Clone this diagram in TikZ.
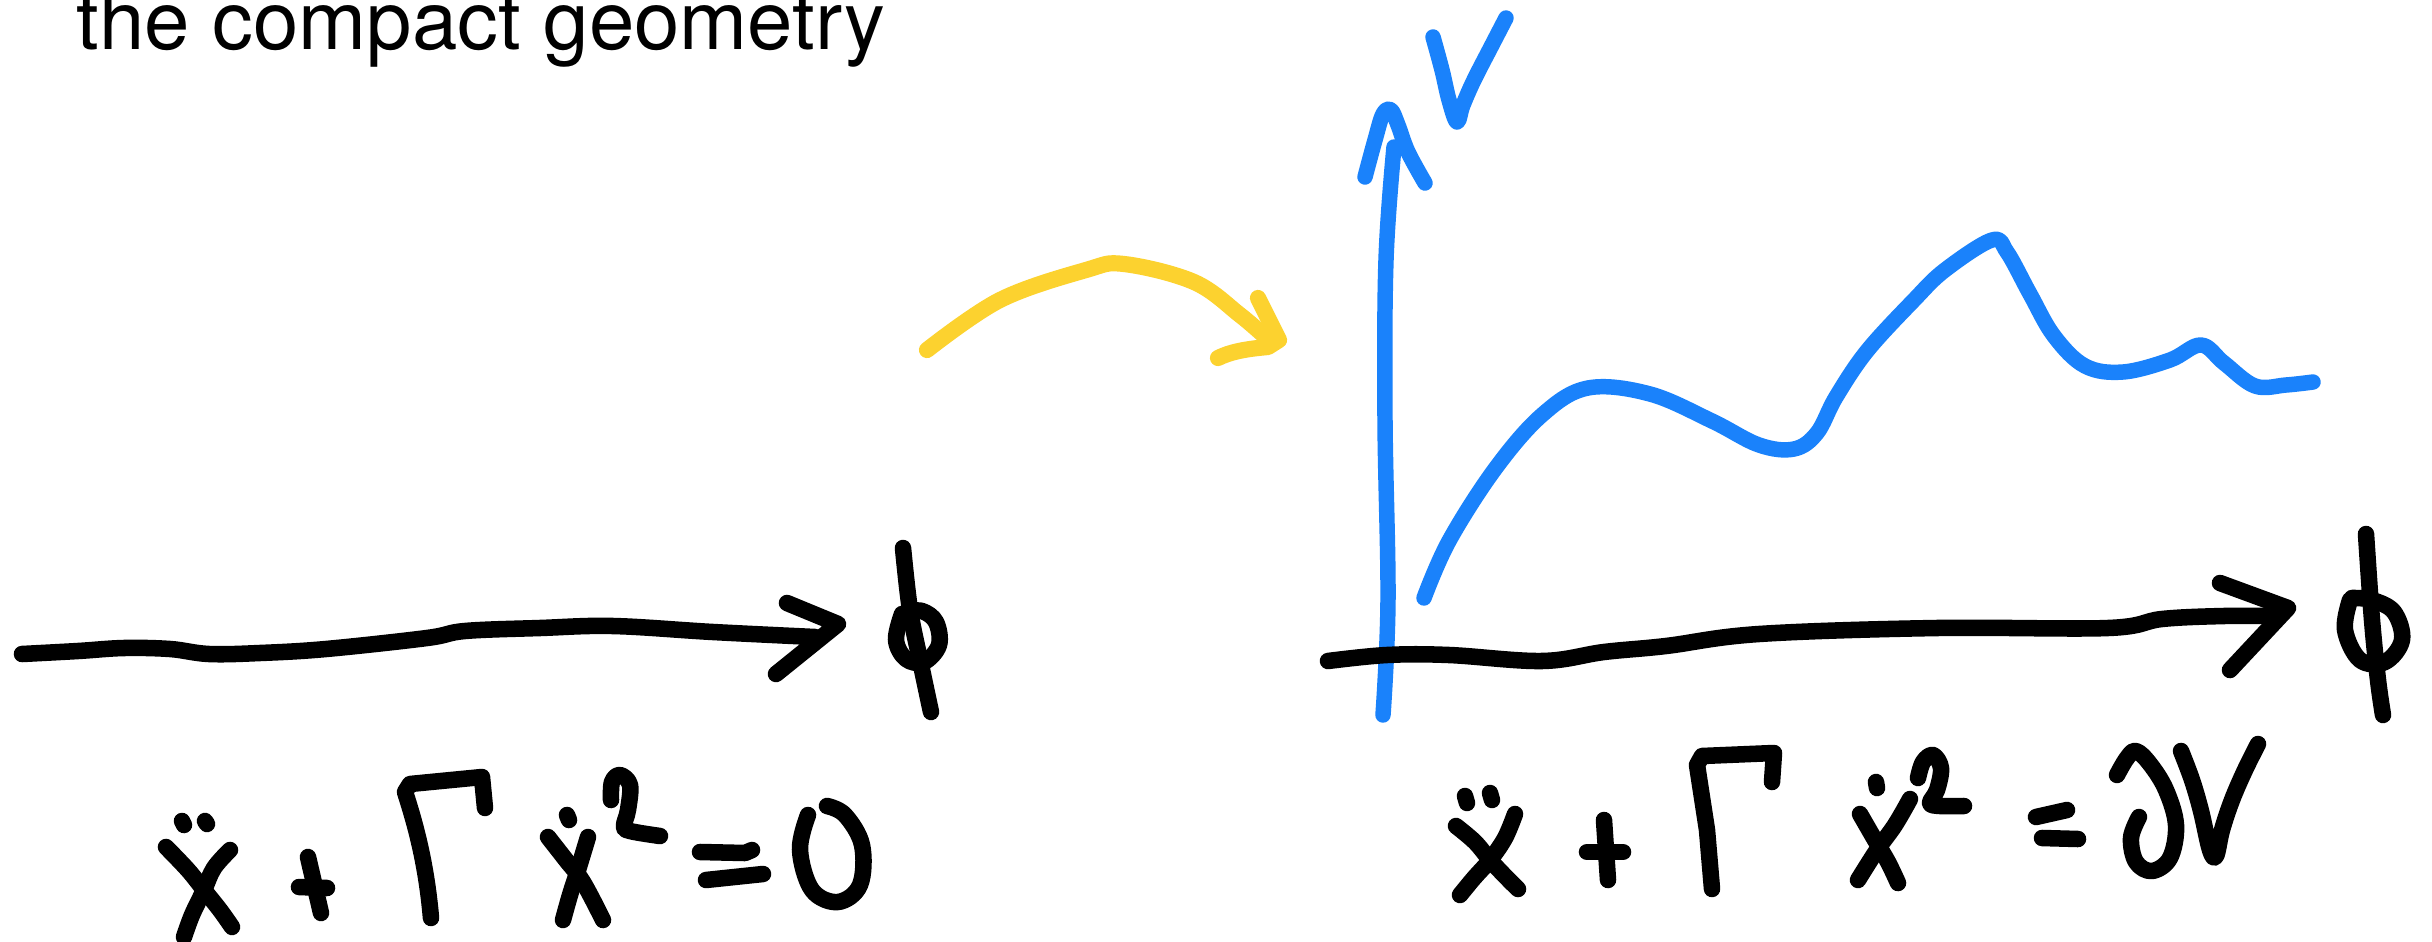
\documentclass[tikz,border=0pt]{standalone}
\usepackage{fontspec}
\newfontfamily\titlefont{TeX Gyre Heros}
\definecolor{inkblue}{HTML}{1A82FB}
\definecolor{inkyellow}{HTML}{FCD22F}
\begin{document}
\begin{tikzpicture}[x=0.01cm,y=-0.01cm,
  pen/.style={line width=4.7pt,line cap=round,line join=round},
  blk/.style={pen,black},
  blu/.style={pen,inkblue,line width=4.4pt},
  ylw/.style={pen,inkyellow,line width=4.6pt},
  sm/.style={smooth,tension=0.6}]
\useasboundingbox (0,0) rectangle (2432,942);
\fill[white] (0,0) rectangle (2432,942);

% title
\node[anchor=base west,inner sep=0pt,font=\titlefont\fontsize{23.2pt}{26pt}\selectfont] (title) at (76,49) {the compact geometry};

% ---------- left: arrow and phi ----------
\draw[blk] plot[sm] coordinates {(22,654) (78,651) (124,648) (170,649) (209,654) (260,653) (326,649) (427,638) (465,631) (540,628) (613,626) (713,632) (815,637)};
\draw[blk] (787,603) -- (838,624) -- (776,674);
\draw[blk] plot[sm] coordinates {(903,548) (910,610) (920,660) (931,712)};
\draw[blk] plot[sm] coordinates {(902,614) (896,640) (906,659) (924,662) (939,645) (936,622) (922,611) (906,612)};

% ---------- yellow arrow ----------
\draw[ylw] plot[sm] coordinates {(927,350) (1000,300) (1086,270) (1124,264) (1194,282) (1240,315) (1270,341)};
\draw[ylw] (1258,298) -- (1279,340) -- (1268,347) .. controls (1245,349) and (1230,352) .. (1218,358);

% ---------- right: blue axis, V, curve ----------
\draw[blu] plot[sm] coordinates {(1383,715) (1388,600) (1385,420) (1386,260) (1394,147)};
\draw[blu] plot[sm] coordinates {(1365,177) (1375,140) (1383,114) (1391,110) (1398,125) (1408,152) (1425,183)};
\draw[blu] plot[sm] coordinates {(1433,37) (1442,70) (1449,100) (1457,122) (1463,105) (1474,80) (1492,45) (1506,18)};
\draw[blu] plot[sm] coordinates {(1424,598) (1449,541) (1495,469) (1542,415) (1588,388) (1650,394) (1712,421) (1759,445) (1794,449) (1817,433) (1836,397) (1867,351) (1914,300) (1945,270) (1992,240) (2007,252) (2030,294) (2054,336) (2085,366) (2123,372) (2170,360) (2201,345) (2224,363) (2255,386) (2286,385) (2313,382)};

% black arrow right
\draw[blk] plot[sm] coordinates {(1328,661) (1387,655) (1449,655) (1542,661) (1604,652) (1666,646) (1759,634) (1937,628) (2108,628) (2162,619) (2224,616) (2274,616)};
\draw[blk] (2220,583) -- (2288,608) -- (2230,670);
\draw[blk] plot[sm] coordinates {(2366,534) (2372,620) (2378,680) (2383,715)};
\draw[blk] plot[sm] coordinates {(2350,600) (2345,630) (2360,660) (2385,662) (2402,640) (2394,612) (2372,600) (2352,598)};

% ---------- left equation ----------
\draw[blk] (182,821) -- (184,825);
\draw[blk] (205,821) -- (207,824);
\draw[blk] plot[sm] coordinates {(166,847) (188,870) (204,890) (220,910) (232,927)};
\draw[blk] plot[sm] coordinates {(230,850) (214,868) (204,890) (192,915) (184,937)};
\draw[blk] (308,857) -- (321,913);
\draw[blk] (299,887) -- (327,888);
\draw[blk] (431,918) .. controls (426,860) and (414,820) .. (405,792) -- (410,784) -- (482,777) -- (485,808);
\draw[blk] (567,815) -- (569,820);
\draw[blk] plot[sm] coordinates {(548,837) (566,860) (583,882) (603,920)};
\draw[blk] plot[sm] coordinates {(588,837) (578,870) (570,895) (563,920)};
\draw[blk] plot[sm] coordinates {(611,800) (612,782) (620,775) (630,785) (628,810) (624,826) (630,831) (660,836)};
\draw[blk] (700,852) -- (745,853) -- (752,850);
\draw[blk] (706,880) -- (763,874);
\draw[blk] plot[sm] coordinates {(808,815) (800,850) (812,890) (838,902) (860,885) (862,845) (845,815) (827,806)};

% ---------- right equation ----------
\draw[blk] (1465,796) -- (1467,803);
\draw[blk] (1490,793) -- (1492,800);
\draw[blk] plot[sm] coordinates {(1456,826) (1475,842) (1490,860) (1505,876) (1518,889)};
\draw[blk] plot[sm] coordinates {(1515,814) (1505,838) (1490,860) (1474,878) (1460,895)};
\draw[blk] (1604,820) -- (1608,880);
\draw[blk] (1587,852) -- (1623,852);
\draw[blk] (1712,889) -- (1707,830) -- (1697,765) -- (1702,756) -- (1774,753) -- (1772,782);
\draw[blk] (1876,782) -- (1877,788);
\draw[blk] plot[sm] coordinates {(1860,814) (1875,840) (1888,862) (1898,883)};
\draw[blk] plot[sm] coordinates {(1910,799) (1895,825) (1877,850) (1858,880)};
\draw[blk] plot[sm] coordinates {(1918,778) (1923,762) (1933,755) (1941,768) (1937,790) (1930,803) (1940,806) (1964,806)};
\draw[blk] (2036,817) -- (2067,810);
\draw[blk] (2042,838) -- (2078,839);
\draw[blk] plot[sm] coordinates {(2117,775) (2127,758) (2136,751) (2150,764) (2166,790) (2176,825) (2170,858) (2152,871) (2136,862) (2131,838) (2139,817)};
\draw[blk] plot[sm] coordinates {(2181,751) (2192,780) (2201,811) (2210,850) (2216,856) (2222,830) (2232,800) (2245,770) (2258,744)};
\end{tikzpicture}
\end{document}
